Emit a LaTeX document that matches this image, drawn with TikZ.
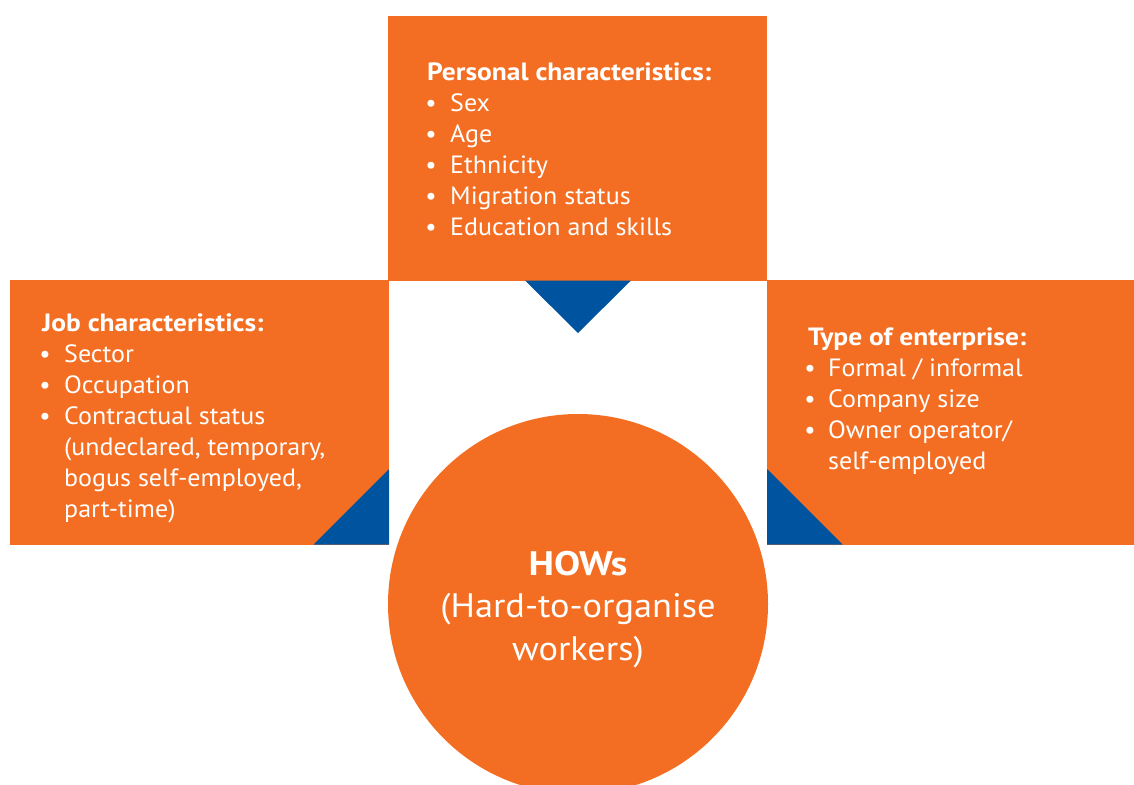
\documentclass[tikz,border=0pt]{standalone}
\usepackage{fontspec}
\setmainfont{PT Sans}
\newfontfamily\itemfont{PT Sans}[FakeStretch=1.04]
\newfontfamily\headfont{PT Sans}[FakeStretch=1.10]
\newfontfamily\circfont{PT Sans}[FakeStretch=1.07]
\newfontfamily\howfont{PT Sans}[FakeStretch=1.15]
\definecolor{howorange}{RGB}{243,110,34}
\definecolor{howblue}{RGB}{0,84,159}
\begin{document}
\begin{tikzpicture}[x=1pt,y=-1pt,
  panel/.style={fill=howorange,draw=none},
  wedge/.style={fill=howblue,draw=none},
  head/.style={anchor=base west,inner sep=0,text=white,font=\headfont\fontsize{25}{30}\selectfont\bfseries},
  item/.style={anchor=base west,inner sep=0,text=white,font=\itemfont\fontsize{25}{30}\selectfont},
  dot/.style={anchor=base,inner sep=0,text=white,font=\fontsize{25}{30}\selectfont},
  big/.style={anchor=base,inner sep=0,text=white,font=\circfont\fontsize{34}{40}\selectfont}]
\useasboundingbox (0,0) rectangle (1134,784);
% panels
\fill[panel] (388,16) rectangle (767,280.5);
\fill[panel] (10,280) rectangle (389,544.5);
\fill[panel] (767,280) rectangle (1134,544.5);
% blue wedges
\fill[wedge] (525,280.5) -- (631,280.5) -- (578,333) -- cycle;
\fill[wedge] (389,469) -- (389,544.5) -- (313.5,544.5) -- cycle;
\fill[wedge] (767,469) -- (767,544.5) -- (842.5,544.5) -- cycle;
% circle
\begin{scope}
\clip (0,0) rectangle (1134,784);
\fill[panel] (578,604) circle (190);
\end{scope}
% top text
\node[head] (ph) at (427,80) {Personal characteristics:};
\foreach \t [count=\i] in {Sex,Age,Ethnicity,Migration status,Education and skills}{
  \node[dot] (pb\i) at (431,80+31*\i) {•};
  \node[item] (pi\i) at (450,80+31*\i) {\t};
}
% left text
\node[head] (jh) at (42,331) {Job characteristics:};
\foreach \t [count=\i] in {Sector,Occupation,Contractual status}{
  \node[dot] (jb\i) at (45,331+31*\i) {•};
  \node[item] (ji\i) at (64,331+31*\i) {\t};
}
\node[item] (jc1) at (64,455) {(undeclared, temporary,};
\node[item] (jc2) at (64,486) {bogus self-employed,};
\node[item] (jc3) at (64,517) {part-time)};
% right text
\node[head] (th) at (808,345) {Type of enterprise:};
\foreach \t [count=\i] in {Formal / informal,Company size,Owner operator/}{
  \node[dot] (tb\i) at (810,345+31*\i) {•};
  \node[item] (ti\i) at (828,345+31*\i) {\t};
}
\node[item] (tc1) at (828,469) {self-employed};
% circle text
\node[big,font=\howfont\fontsize{34}{40}\selectfont\bfseries] (c1) at (578,575) {HOWs};
\node[big] (c2) at (578,617) {(Hard-to-organise};
\node[big] (c3) at (578,660) {workers)};
\end{tikzpicture}
\end{document}
